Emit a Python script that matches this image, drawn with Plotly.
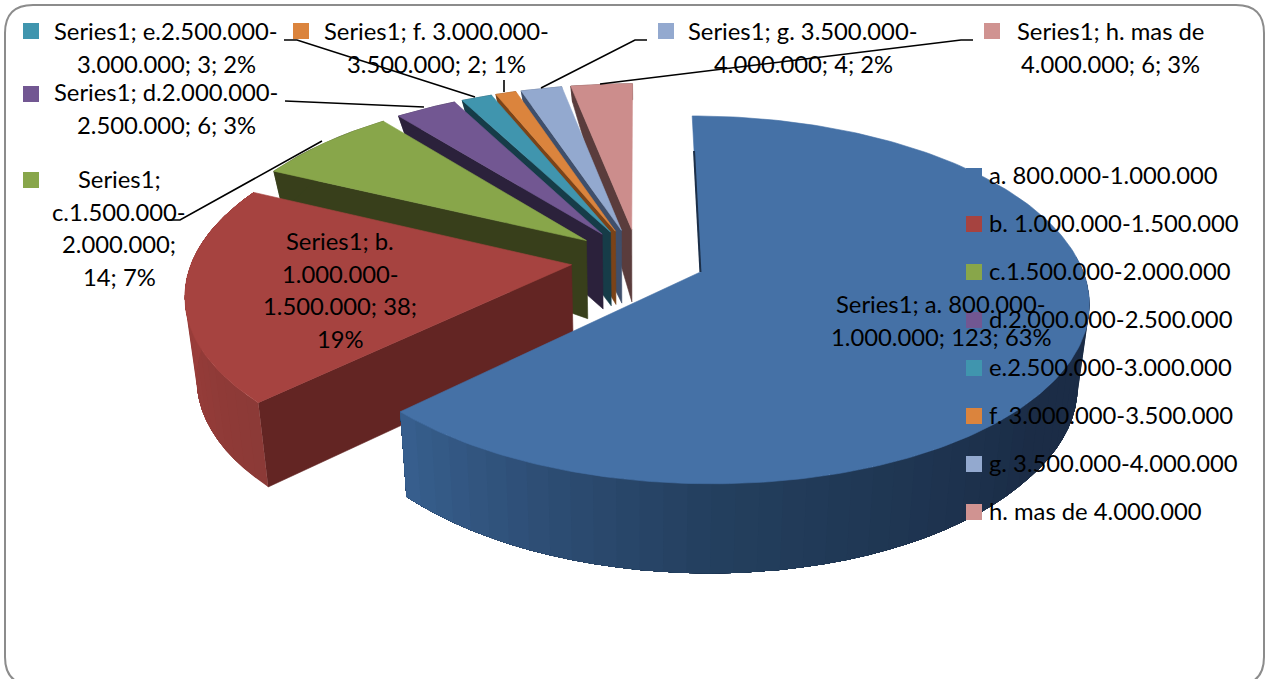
import numpy as np
import plotly.graph_objects as go

categories = ['a. 800.000-1.000.000', 'b. 1.000.000-1.500.000', 'c.1.500.000-2.000.000',
              'd.2.000.000-2.500.000', 'e.2.500.000-3.000.000', 'f. 3.000.000-3.500.000',
              'g. 3.500.000-4.000.000', 'h. mas de 4.000.000']
values = [123, 38, 14, 6, 3, 2, 4, 6]
top_colors = ['#4571A6', '#A64340', '#88A64A', '#725792', '#4095AE', '#DB843D', '#93A9CF', '#CC8D8C']
wall_colors = ['#2B4A6D', '#632523', '#383F1B', '#2B213B', '#163C48', '#7B4318', '#3F4F6B', '#5A3C3C']
swatch_colors = ['#4571A6', '#A64340', '#88A64A', '#725792', '#4095AE', '#DB843D', '#93A9CF', '#D09391']

# Shading along the rim of the two big slices (angle, colour)
rim_shade = {
    0: ([90, 130, 180, 205, 226], [(27, 44, 69), (27, 45, 71), (36, 64, 95), (47, 80, 120), (56, 96, 143)]),
    1: ([226, 270], [(140, 58, 55), (156, 62, 59)]),
}

# Data labels: swatch position, text centre, first line y, lines
data_labels = [
    (809, 305, 941, 304, ['Series1; a. 800.000-', '1.000.000; 123; 63%']),
    (241, 242, 340, 241, ['Series1; b.', '1.000.000-', '1.500.000; 38;', '19%']),
    (31, 180, 119, 179, ['Series1;', 'c.1.500.000-', '2.000.000;', '14; 7%']),
    (31, 94, 166, 92, ['Series1; d.2.000.000-', '2.500.000; 6; 3%']),
    (31, 31, 166, 31, ['Series1; e.2.500.000-', '3.000.000; 3; 2%']),
    (301, 31, 436, 31, ['Series1; f. 3.000.000-', '3.500.000; 2; 1%']),
    (666, 31, 803, 31, ['Series1; g. 3.500.000-', '4.000.000; 4; 2%']),
    (992, 31, 1110, 31, ['Series1; h. mas de', '4.000.000; 6; 3%']),
]
leader_lines = [
    ([167, 180, 322], [220, 220, 141]),
    ([285, 424], [101, 107]),
    ([284, 297, 475], [40, 40, 97]),
    ([504, 504], [80, 92]),
    ([541, 635, 647], [88, 40, 40]),
    ([600, 961, 973], [84, 40, 40]),
]
legend_y = [176, 224, 272, 320, 368, 416, 464, 512]

FONT = 'Lato'
FONT_SIZE = 23.8
LINE_STEP = 32.6

# Projection of the tilted pie onto the picture
OX, OY = 638, 259.7
SCALE_X, SCALE_Y = 379, 176
PERSP = 0.15
EXPLODE = 0.177
DEPTH_Y = [-1.1, -0.7, 0, 0.1, 0.78, 1.05]
DEPTH_PX = [90, 84, 81, 79, 20, 16]


def project(gx, gy):
    s = 1 / (1 + PERSP * gy)
    return OX + SCALE_X * gx * s, OY - SCALE_Y * gy * s


def lower(gx, gy):
    # same point on the underside of the pie
    x, y = project(gx, gy)
    return x - (x - OX) * 0.026, y + np.interp(gy, DEPTH_Y, DEPTH_PX)


def ground(ang, r, mid):
    a, m = np.radians(ang), np.radians(mid)
    return EXPLODE * np.sin(m) + r * np.sin(a), EXPLODE * np.cos(m) + r * np.cos(a)


fig = go.Figure()


def poly(xs, ys, color, width=0.6):
    fig.add_trace(go.Scatter(x=xs, y=ys, mode='lines', fill='toself', fillcolor=color,
                             line=dict(color=color, width=width), hoverinfo='skip', showlegend=False))


total = sum(values)
edges = np.cumsum([0] + values) / total * 360

# back slices first, blue one last
for i in range(len(values) - 1, -1, -1):
    start, end = edges[i], edges[i + 1]
    mid = (start + end) / 2
    # the blue slice only shows its rim from the right side round to the front
    rim_from = 85 if i == 0 else start
    arc = np.linspace(start, end, max(int(end - start), 2) + 1)
    rim = np.linspace(rim_from, end, max(int((end - rim_from) / 3), 1) + 1)

    # flat cut face on the start side
    if i > 0:
        gx, gy = ground(start, np.array([0, 1.0]), mid)
        tx, ty = project(gx, gy)
        bx, by = lower(gx, gy)
        poly([tx[0], tx[1], bx[1], bx[0], tx[0]], [ty[0], ty[1], by[1], by[0], ty[0]], wall_colors[i])

    # rim wall: every piece runs on to the end, so the next one paints over it and no seam shows
    if i in rim_shade:
        stops, cols = rim_shade[i]
        for a0, a1 in zip(rim[:-1], rim[1:]):
            piece = rim[rim >= a0]
            gx, gy = ground(piece, 1.0, mid)
            tx, ty = project(gx, gy)
            bx, by = lower(gx, gy)
            rgb = [np.interp((a0 + a1) / 2, stops, [c[k] for c in cols]) for k in range(3)]
            poly(list(tx) + list(bx[::-1]) + [tx[0]], list(ty) + list(by[::-1]) + [ty[0]],
                 'rgb(%d,%d,%d)' % tuple(rgb), width=0)
    else:
        gx, gy = ground(rim, 1.0, mid)
        tx, ty = project(gx, gy)
        bx, by = lower(gx, gy)
        poly(list(tx) + list(bx[::-1]) + [tx[0]], list(ty) + list(by[::-1]) + [ty[0]], wall_colors[i])

    # top face
    gx, gy = ground(arc, 1.0, mid)
    ax, ay = ground(start, 0, mid)
    tx, ty = project(gx, gy)
    px, py = project(ax, ay)
    poly([px] + list(tx) + [px], [py] + list(ty) + [py], top_colors[i])

    # thin dark edge where the blue slice starts
    if i == 0:
        gx, gy = ground(0, np.array([0, 0.75]), mid)
        tx, ty = project(gx, gy)
        fig.add_trace(go.Scatter(x=tx, y=ty, mode='lines', line=dict(color='#1C2F48', width=2),
                                 hoverinfo='skip', showlegend=False))

# leader lines
for lx, ly in leader_lines:
    fig.add_trace(go.Scatter(x=lx, y=ly, mode='lines', line=dict(color='black', width=1.6),
                             hoverinfo='skip', showlegend=False))

# label swatches
fig.add_trace(go.Scatter(x=[d[0] for d in data_labels], y=[d[1] for d in data_labels], mode='markers',
                         marker=dict(symbol='square', size=16, color=swatch_colors), hoverinfo='skip',
                         showlegend=False))
# legend swatches
fig.add_trace(go.Scatter(x=[974] * len(categories), y=legend_y, mode='markers',
                         marker=dict(symbol='square', size=16, color=swatch_colors), hoverinfo='skip',
                         showlegend=False))

annotations = []
for _, _, cx, y0, lines in data_labels:
    for n, line in enumerate(lines):
        annotations.append(dict(x=cx, y=y0 + n * LINE_STEP, text=line, xref='x', yref='y', showarrow=False,
                                xanchor='center', yanchor='middle', font=dict(family=FONT, size=FONT_SIZE, color='black')))
for cat, y in zip(categories, legend_y):
    annotations.append(dict(x=987, y=y - 1.5, text=cat, xref='x', yref='y', showarrow=False,
                            xanchor='left', yanchor='middle', font=dict(family=FONT, size=FONT_SIZE, color='black')))

# chart area frame, its bottom edge is cut off by the picture
frame = ('M 33 5 L 1236 5 Q 1264 5 1264 33 L 1264 657 Q 1264 685 1236 685 '
         'L 33 685 Q 5 685 5 657 L 5 33 Q 5 5 33 5 Z')

fig.update_layout(
    width=1267, height=679,
    margin=dict(l=0, r=0, t=0, b=0),
    paper_bgcolor='white', plot_bgcolor='white',
    xaxis=dict(range=[0, 1267], visible=False, fixedrange=True),
    yaxis=dict(range=[679, 0], visible=False, fixedrange=True),
    shapes=[dict(type='path', path=frame, line=dict(color='#8C8C8C', width=2), layer='below')],
    annotations=annotations,
    showlegend=False,
)

# the page's default body margin would push the whole figure 8px down and right
fig.write_html("out.html", config={'displayModeBar': False},
               post_script="document.body.style.margin='0';document.body.style.overflow='hidden';")
